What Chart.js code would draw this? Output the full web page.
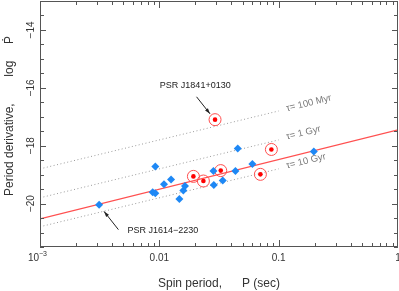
<!DOCTYPE html>
<html>
<head>
<meta charset="utf-8">
<script src="https://cdn.jsdelivr.net/npm/chart.js@4.4.0/dist/chart.umd.min.js"></script>
<style>
  html, body { margin: 0; padding: 0; background: #fff; }
</style>
</head>
<body>
<canvas id="graph" width="399" height="291"></canvas>
<script>
// pulsars without rings (blue diamonds): period (s) and log Pdot
const bluePeriod  = [0.00313, 0.00925, 0.0088, 0.00925, 0.01094, 0.01254, 0.01473, 0.01589, 0.0164, 0.0454, 0.197, 0.0284, 0.0434, 0.0602, 0.0286, 0.034];
const blueLogPdot = [-20.04, -18.72, -19.61, -19.64, -19.33, -19.17, -19.84, -19.55, -19.39, -18.10, -18.20, -18.87, -18.87, -18.63, -19.36, -19.20];

// ringed red points
const redPeriod  = [0.0193, 0.0293, 0.0869, 0.0327, 0.0703, 0.0234];
const redLogPdot = [-19.06, -17.10, -18.13, -18.86, -18.99, -19.22];

// red fit line
const fitPeriod  = [0.001, 1];
const fitLogPdot = [-20.53, -17.45];

// characteristic age lines
const tauPeriod = [0.001, 0.1];
const tau100Myr = [-18.8, -16.8];
const tau1Gyr   = [-19.8, -17.8];
const tau10Gyr  = [-20.8, -18.8];
const tauNames  = ['\u03c4= 100 Myr', '\u03c4= 1 Gyr', '\u03c4= 10 Gyr'];
const tauLabelPeriod  = 0.116;
const tauLabelLogPdot = [-16.72, -17.70, -18.70];

// ticks
const xTickValues = [0.001, 0.01, 0.1, 1];
const xTickLabels = ['10', '0.01', '0.1', '1'];
const yTickValues = [-14, -16, -18, -20];
const yTickLabels = ['\u221214', '\u221216', '\u221218', '\u221220'];

// annotations (data coordinates)
const notes = [
  { text: 'PSR J1841+0130', at: [0.0200, -15.93], align: 'center', from: [0.0205, -16.31], to: [0.0266, -16.90] },
  { text: 'PSR J1614\u22122230', at: [0.0054, -20.94], align: 'left', from: [0.00454, -20.90], to: [0.00344, -20.27] }
];

const FONT = '"Liberation Sans", Arial, Helvetica, sans-serif';
const pts = (xs, ys) => xs.map((x, i) => ({ x: x, y: ys[i] }));

function arrow(ctx, x1, y1, x2, y2) {
  const a = Math.atan2(y2 - y1, x2 - x1);
  ctx.beginPath();
  ctx.moveTo(x1, y1);
  ctx.lineTo(x2, y2);
  ctx.stroke();
  ctx.beginPath();
  ctx.moveTo(x2, y2);
  ctx.lineTo(x2 - 6 * Math.cos(a - 0.3), y2 - 6 * Math.sin(a - 0.3));
  ctx.lineTo(x2 - 6 * Math.cos(a + 0.3), y2 - 6 * Math.sin(a + 0.3));
  ctx.closePath();
  ctx.fill();
}

const decorations = {
  id: 'decorations',
  afterDraw(chart) {
    const ctx = chart.ctx;
    const { left, right, top, bottom } = chart.chartArea;
    const xs = chart.scales.x, ys = chart.scales.y;
    ctx.save();

    // frame
    ctx.strokeStyle = '#555';
    ctx.lineWidth = 1;
    ctx.strokeRect(left + 0.5, top + 0.5, right - left - 1, bottom - top - 1);

    // x ticks (log, inward, top and bottom)
    ctx.beginPath();
    for (let d = -3; d < 0; d++) {
      for (let m = 1; m <= 9; m++) {
        const v = m * Math.pow(10, d);
        const px = Math.round(xs.getPixelForValue(v)) + 0.5;
        const len = m === 1 ? 7 : 4;
        ctx.moveTo(px, bottom); ctx.lineTo(px, bottom - len);
        ctx.moveTo(px, top); ctx.lineTo(px, top + len);
      }
    }
    // y ticks every 0.5, inward, left and right
    for (let v = -21.5; v <= -13; v += 0.5) {
      const py = Math.round(ys.getPixelForValue(v)) + 0.5;
      const len = v % 2 === 0 ? 6 : 4;
      ctx.moveTo(left, py); ctx.lineTo(left + len, py);
      ctx.moveTo(right, py); ctx.lineTo(right - len, py);
    }
    ctx.stroke();

    // x tick labels
    ctx.fillStyle = '#333';
    ctx.textBaseline = 'middle';
    ctx.font = '10px ' + FONT;
    xTickValues.forEach((v, i) => {
      const px = xs.getPixelForValue(v);
      if (i === 0) {
        ctx.textAlign = 'right';
        ctx.fillText(xTickLabels[i], px - 1, bottom + 11);
        ctx.textAlign = 'left';
        ctx.font = '7px ' + FONT;
        ctx.fillText('\u22123', px - 1, bottom + 7);
        ctx.font = '10px ' + FONT;
      } else {
        ctx.textAlign = 'center';
        ctx.fillText(xTickLabels[i], px, bottom + 11);
      }
    });

    // y tick labels (rotated)
    yTickValues.forEach((v, i) => {
      const py = ys.getPixelForValue(v);
      ctx.save();
      ctx.translate(left - 9, py);
      ctx.rotate(-Math.PI / 2);
      ctx.textAlign = 'center';
      ctx.fillText(yTickLabels[i], 0, 0);
      ctx.restore();
    });

    // axis titles
    ctx.font = '12px ' + FONT;
    ctx.fillStyle = '#333';
    ctx.textAlign = 'center';
    ctx.fillText('Spin period,      P (sec)', (left + right) / 2, bottom + 37);
    ctx.save();
    ctx.translate(10, 116);
    ctx.rotate(-Math.PI / 2);
    ctx.fillText('Period derivative,        log     \u1e56', 0, 0);
    ctx.restore();

    // tau labels along the dotted lines
    const ang = Math.atan2(
      ys.getPixelForValue(tau1Gyr[1]) - ys.getPixelForValue(tau1Gyr[0]),
      xs.getPixelForValue(tauPeriod[1]) - xs.getPixelForValue(tauPeriod[0]));
    ctx.font = '9.5px ' + FONT;
    ctx.fillStyle = '#777';
    ctx.textAlign = 'left';
    tauNames.forEach((t, i) => {
      ctx.save();
      ctx.translate(xs.getPixelForValue(tauLabelPeriod), ys.getPixelForValue(tauLabelLogPdot[i]));
      ctx.rotate(ang);
      ctx.fillText(t, 0, 0);
      ctx.restore();
    });

    // pulsar annotations
    ctx.font = '9px ' + FONT;
    ctx.fillStyle = '#222';
    ctx.strokeStyle = '#222';
    notes.forEach(n => {
      ctx.textAlign = n.align;
      ctx.fillText(n.text, xs.getPixelForValue(n.at[0]), ys.getPixelForValue(n.at[1]));
      arrow(ctx,
        xs.getPixelForValue(n.from[0]), ys.getPixelForValue(n.from[1]),
        xs.getPixelForValue(n.to[0]), ys.getPixelForValue(n.to[1]));
    });

    ctx.restore();
  }
};

const dotted = (data) => ({
  data: data, showLine: true, pointRadius: 0, borderColor: '#9a9a9a',
  borderWidth: 1, borderDash: [1, 2.5], order: 5
});

new Chart(document.getElementById('graph').getContext('2d'), {
  type: 'scatter',
  data: {
    datasets: [
      dotted(pts(tauPeriod, tau100Myr)),
      dotted(pts(tauPeriod, tau1Gyr)),
      dotted(pts(tauPeriod, tau10Gyr)),
      {
        data: pts(fitPeriod, fitLogPdot), showLine: true, pointRadius: 0,
        borderColor: '#ff5050', borderWidth: 1.2, order: 4
      },
      {
        data: pts(bluePeriod, blueLogPdot), pointStyle: 'rectRot', pointRadius: 4,
        backgroundColor: '#1e88f5', borderWidth: 0, order: 1
      },
      {
        data: pts(redPeriod, redLogPdot), pointStyle: 'circle', pointRadius: 6,
        backgroundColor: 'rgba(255,255,255,0)', borderColor: '#ff4d4d', borderWidth: 1, order: 2
      },
      {
        data: pts(redPeriod, redLogPdot), pointStyle: 'circle', pointRadius: 2.3,
        backgroundColor: '#ff0000', borderWidth: 0, order: 1
      }
    ]
  },
  options: {
    responsive: false,
    animation: false,
    devicePixelRatio: 1,
    layout: { autoPadding: false, padding: { left: 40, top: 1, right: 1, bottom: 44 } },
    scales: {
      x: { type: 'logarithmic', min: 0.001, max: 1, display: false },
      y: { type: 'linear', min: -21.5, max: -13, display: false }
    },
    plugins: {
      legend: { display: false },
      tooltip: { enabled: false }
    }
  },
  plugins: [decorations]
});
</script>
</body>
</html>
